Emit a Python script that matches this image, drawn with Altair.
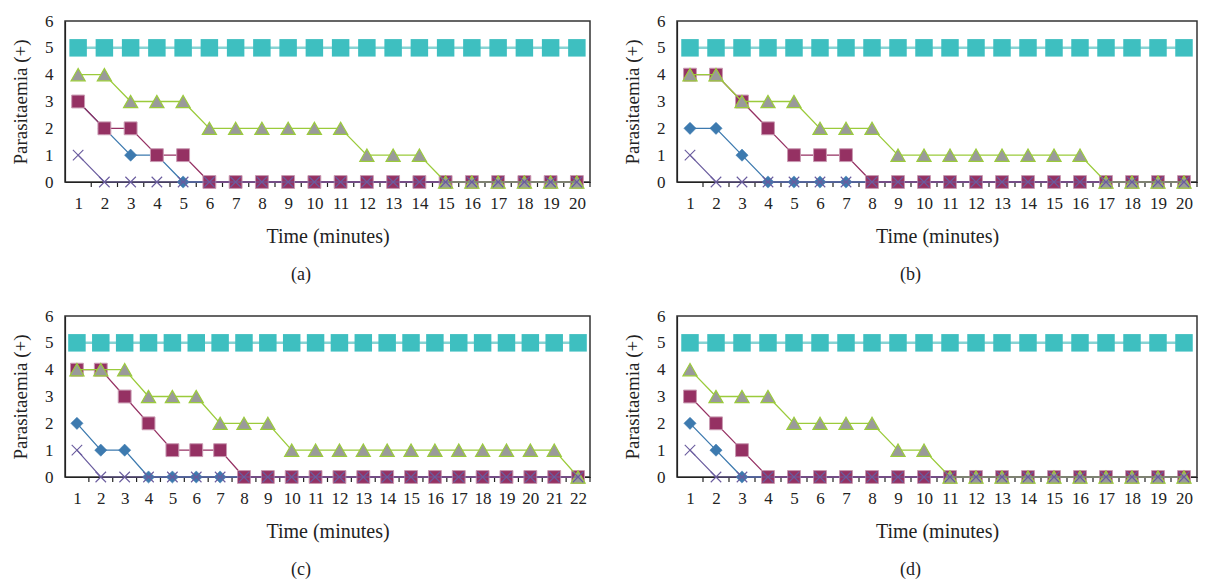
import altair as alt
import pandas as pd

# ---------------- data ----------------
minutes_a = [1, 2, 3, 4, 5, 6, 7, 8, 9, 10, 11, 12, 13, 14, 15, 16, 17, 18, 19, 20]
control_a = [5, 5, 5, 5, 5, 5, 5, 5, 5, 5, 5, 5, 5, 5, 5, 5, 5, 5, 5, 5]
triangle_a = [4, 4, 3, 3, 3, 2, 2, 2, 2, 2, 2, 1, 1, 1, 0, 0, 0, 0, 0, 0]
square_a = [3, 2, 2, 1, 1, 0, 0, 0, 0, 0, 0, 0, 0, 0, 0, 0, 0, 0, 0, 0]
diamond_a = [3, 2, 1, 1, 0, 0, 0, 0, 0, 0, 0, 0, 0, 0, 0, 0, 0, 0, 0, 0]
cross_a = [1, 0, 0, 0, 0, 0, 0, 0, 0, 0, 0, 0, 0, 0, 0, 0, 0, 0, 0, 0]

minutes_b = [1, 2, 3, 4, 5, 6, 7, 8, 9, 10, 11, 12, 13, 14, 15, 16, 17, 18, 19, 20]
control_b = [5, 5, 5, 5, 5, 5, 5, 5, 5, 5, 5, 5, 5, 5, 5, 5, 5, 5, 5, 5]
triangle_b = [4, 4, 3, 3, 3, 2, 2, 2, 1, 1, 1, 1, 1, 1, 1, 1, 0, 0, 0, 0]
square_b = [4, 4, 3, 2, 1, 1, 1, 0, 0, 0, 0, 0, 0, 0, 0, 0, 0, 0, 0, 0]
diamond_b = [2, 2, 1, 0, 0, 0, 0, 0, 0, 0, 0, 0, 0, 0, 0, 0, 0, 0, 0, 0]
cross_b = [1, 0, 0, 0, 0, 0, 0, 0, 0, 0, 0, 0, 0, 0, 0, 0, 0, 0, 0, 0]

minutes_c = [1, 2, 3, 4, 5, 6, 7, 8, 9, 10, 11, 12, 13, 14, 15, 16, 17, 18, 19, 20, 21, 22]
control_c = [5, 5, 5, 5, 5, 5, 5, 5, 5, 5, 5, 5, 5, 5, 5, 5, 5, 5, 5, 5, 5, 5]
triangle_c = [4, 4, 4, 3, 3, 3, 2, 2, 2, 1, 1, 1, 1, 1, 1, 1, 1, 1, 1, 1, 1, 0]
square_c = [4, 4, 3, 2, 1, 1, 1, 0, 0, 0, 0, 0, 0, 0, 0, 0, 0, 0, 0, 0, 0, 0]
diamond_c = [2, 1, 1, 0, 0, 0, 0, 0, 0, 0, 0, 0, 0, 0, 0, 0, 0, 0, 0, 0, 0, 0]
cross_c = [1, 0, 0, 0, 0, 0, 0, 0, 0, 0, 0, 0, 0, 0, 0, 0, 0, 0, 0, 0, 0, 0]

minutes_d = [1, 2, 3, 4, 5, 6, 7, 8, 9, 10, 11, 12, 13, 14, 15, 16, 17, 18, 19, 20]
control_d = [5, 5, 5, 5, 5, 5, 5, 5, 5, 5, 5, 5, 5, 5, 5, 5, 5, 5, 5, 5]
triangle_d = [4, 3, 3, 3, 2, 2, 2, 2, 1, 1, 0, 0, 0, 0, 0, 0, 0, 0, 0, 0]
square_d = [3, 2, 1, 0, 0, 0, 0, 0, 0, 0, 0, 0, 0, 0, 0, 0, 0, 0, 0, 0]
diamond_d = [2, 1, 0, 0, 0, 0, 0, 0, 0, 0, 0, 0, 0, 0, 0, 0, 0, 0, 0, 0]
cross_d = [1, 0, 0, 0, 0, 0, 0, 0, 0, 0, 0, 0, 0, 0, 0, 0, 0, 0, 0, 0]

y_ticks = [0, 1, 2, 3, 4, 5, 6]
y_title = "Parasitaemia (+)"
x_title = "Time (minutes)"

FONT = "Liberation Serif"
X_SHAPE = "M-1,-1L1,1M1,-1L-1,1"

# style per series, in drawing order
STYLES = [
    ("control", dict(line="#86D3D3", lw=2.5, shape="square", size=306, fill="#3EBFC0", stroke="#3EBFC0", sw=0)),
    ("diamond", dict(line="#3D7AAF", lw=1.3, shape="diamond", size=150, fill="#3D7AAF", stroke="#3D7AAF", sw=0.5)),
    ("square", dict(line="#953163", lw=1.3, shape="square", size=165, fill="#953163", stroke="#C99AB2", sw=1)),
    ("triangle", dict(line="#9BCB3B", lw=1.3, shape="triangle-up", size=200, fill="#9A9A9A", stroke="#9BCB3B", sw=1.2)),
    ("cross", dict(line="#6A5C9E", lw=1.2, shape=X_SHAPE, size=110, fill=None, stroke="#6A5C9E", sw=1.1)),
]


def panel(minutes, series, caption, width, height):
    n = len(minutes)
    xscale = alt.Scale(domain=[0.5, n + 0.5], nice=False, zero=False)
    xaxis = alt.Axis(values=minutes, title=x_title, labelPadding=13, titlePadding=15,
                     titleFontSize=20)
    x = alt.X("minute:Q", scale=xscale, axis=xaxis)
    y = alt.Y("value:Q", scale=alt.Scale(domain=[0, 6], nice=False, zero=False),
              axis=alt.Axis(values=y_ticks, title=y_title, labelPadding=12, titlePadding=14))
    layers = []
    # category boundary tick marks under the x axis
    bounds = pd.DataFrame({"b": [m + 0.5 for m in minutes]})
    ticks = alt.Chart(bounds).mark_rule(color="#222", strokeWidth=1.2).encode(
        x=alt.X("b:Q", scale=xscale, axis=xaxis), y=alt.value(height), y2=alt.value(height + 5))
    layers.append(ticks)
    for name, st in STYLES:
        df = pd.DataFrame({"minute": minutes, "value": series[name]})
        base = alt.Chart(df)
        layers.append(base.mark_line(color=st["line"], strokeWidth=st["lw"]).encode(x=x, y=y))
        if st["fill"] is None:
            pt = base.mark_point(shape=st["shape"], size=st["size"], filled=False,
                                 stroke=st["stroke"], strokeWidth=st["sw"], opacity=1)
        else:
            pt = base.mark_point(shape=st["shape"], size=st["size"], filled=True,
                                 fill=st["fill"], stroke=st["stroke"], strokeWidth=st["sw"],
                                 opacity=1, fillOpacity=1)
        layers.append(pt.encode(x=x, y=y))
    return alt.layer(*layers).properties(
        width=width, height=height,
        title=alt.TitleParams(caption, orient="bottom", anchor="middle", frame="bounds",
                              font=FONT, fontSize=18, fontWeight="normal", color="#222",
                              offset=20),
    )


W, H = 525, 161
pa = panel(minutes_a, dict(control=control_a, triangle=triangle_a, square=square_a,
                           diamond=diamond_a, cross=cross_a), "(a)", W, H)
pb = panel(minutes_b, dict(control=control_b, triangle=triangle_b, square=square_b,
                           diamond=diamond_b, cross=cross_b), "(b)", 520, H)
pc = panel(minutes_c, dict(control=control_c, triangle=triangle_c, square=square_c,
                           diamond=diamond_c, cross=cross_c), "(c)", W, H)
pd_ = panel(minutes_d, dict(control=control_d, triangle=triangle_d, square=square_d,
                            diamond=diamond_d, cross=cross_d), "(d)", 520, H)

chart = alt.vconcat(
    alt.hconcat(pa, pb, spacing=30),
    alt.hconcat(pc, pd_, spacing=30),
    spacing=21,
).properties(
    padding={"left": 2, "top": 3, "right": 0, "bottom": 0},
    background="white",
).configure_view(
    stroke="#333", strokeWidth=1.5
).configure_axis(
    tickSize=0, grid=False, domainColor="#222", domainWidth=1.2,
    labelFont=FONT, labelFontSize=17, labelColor="#222", labelOverlap=False,
    titleFont=FONT, titleFontSize=19, titleFontWeight="normal", titleColor="#222",
)

chart.save("out.html", embed_options={"renderer": "svg", "actions": False})
